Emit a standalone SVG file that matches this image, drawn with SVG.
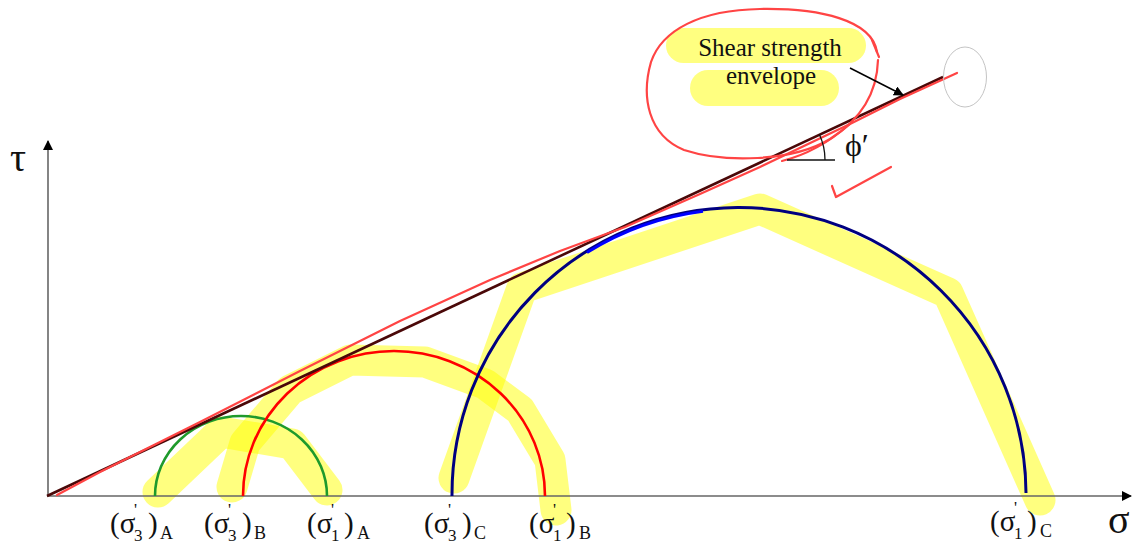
<svg xmlns="http://www.w3.org/2000/svg" width="1132" height="546" viewBox="0 0 1132 546">
<style>
.hl{fill:none;stroke:#ffff00;stroke-opacity:0.5;stroke-width:31;stroke-linecap:round;stroke-linejoin:round}
.pen{fill:none;stroke:#ff4444;stroke-width:2.2;stroke-linecap:round;stroke-linejoin:round}
.t{font-family:"Liberation Serif","Times New Roman",serif;fill:#111}
.lb{font-family:"Liberation Serif","Times New Roman",serif;font-size:29px;fill:#111}
.sb{font-size:17px}
.sl{font-size:18px}
.pr{font-size:17px}
.ax{stroke:#666;stroke-width:1.6;fill:none}
</style>
<defs>
<marker id="ah" viewBox="0 0 10 10" refX="9" refY="5" markerWidth="10" markerHeight="10" markerUnits="userSpaceOnUse" orient="auto"><path d="M0,0 L10,5 L0,10 z" fill="#000"/></marker>
<marker id="axh" viewBox="0 0 10 10" refX="9" refY="5" markerWidth="10" markerHeight="10" markerUnits="userSpaceOnUse" orient="auto"><path d="M0,0 L10,5 L0,10 z" fill="#000"/></marker>
</defs>
<rect width="1132" height="546" fill="#fff"/>
<g id="highlights">
<polyline class="hl" points="158,492 221,432 292,444 327,490"/>
<polyline class="hl" points="232,487 245,443 290,390 350,360 425,362 485,384 520,410 550,460 556,510"/>
<polyline class="hl" points="454,478 522,288 760,209 948,293 1040,500"/>
<rect x="666" y="28" width="200" height="35" rx="17.5" fill="#ffff80"/>
<rect x="690" y="70" width="149" height="36" rx="18" fill="#ffff80"/>
</g>
<g id="axes">
<line class="ax" x1="48" y1="496" x2="48" y2="141" marker-end="url(#axh)"/>
<line class="ax" x1="47" y1="496" x2="1131" y2="496" marker-end="url(#axh)"/>
<text class="t" x="10" y="171" font-size="40">τ</text>
<text class="t" x="1108" y="533" font-size="40">σ</text>
</g>
<g id="circle-A"><path d="M155,496 A86,80 0 0 1 327,496" fill="none" stroke="#1e9a2c" stroke-width="2.6"/></g>
<g id="circle-B"><path d="M243,496 A151,145 0 0 1 545,496" fill="none" stroke="#ff0000" stroke-width="2.6"/></g>
<g id="circle-C">
<path d="M452,496 A287,287 0 0 1 1026,493" fill="none" stroke="#000080" stroke-width="3"/>
<path d="M587,252.6 A287,287 0 0 1 703,211.3" fill="none" stroke="#0000ff" stroke-width="3"/>
</g>
<g id="envelope">
<line x1="47" y1="496" x2="943" y2="77" stroke="#4a0808" stroke-width="2.6"/>
<polyline class="pen" points="57,495 100,472 200,422 300,371 400,321 490,280 560,251 625,227 700,194 760,167 850,124 900,99 957,73"/>
<ellipse cx="965" cy="77" rx="21.5" ry="30" fill="none" stroke="#c4c4c4" stroke-width="1"/>
</g>
<g id="annotation">
<path class="pen" d="M877,52 C872,20 820,8 760,9 C700,10 662,30 651,62 C641,97 648,135 684,150 C724,163 792,162 830,139 C860,120 877,95 878,60"/>
<path class="pen" d="M872,40 L879,57"/>
<path class="pen" d="M782,161 Q818,152 850,124"/>
<path class="pen" d="M832,186 L836,197 L891,167"/>
</g>
<g id="label-envelope">
<text class="t" x="770" y="56" font-size="25" text-anchor="middle">Shear strength</text>
<text class="t" x="771" y="84" font-size="25" text-anchor="middle">envelope</text>
</g>
<g id="connectors">
<line x1="850" y1="68" x2="903" y2="95" stroke="#000" stroke-width="1.5" marker-end="url(#ah)"/>
</g>
<g id="angle-phi">
<line x1="787" y1="160" x2="835" y2="160" stroke="#111" stroke-width="1.3"/>
<path d="M819.4,134.6 A60,60 0 0 1 825,160" fill="none" stroke="#111" stroke-width="1.3"/>
<text class="t" x="845" y="156" font-size="32">ϕ′</text>
</g>
<g id="label-s3A" class="lb"><text x="110" y="533">(σ<tspan class="sb" x="134" y="541">3</tspan><tspan x="148" y="533">)</tspan><tspan class="sl" x="160" y="539">A</tspan></text><text class="pr" x="134" y="515">'</text></g>
<g id="label-s3B" class="lb"><text x="204" y="533">(σ<tspan class="sb" x="228" y="541">3</tspan><tspan x="242" y="533">)</tspan><tspan class="sl" x="254" y="539">B</tspan></text><text class="pr" x="228" y="515">'</text></g>
<g id="label-s1A" class="lb"><text x="307" y="533">(σ<tspan class="sb" x="331" y="541">1</tspan><tspan x="344" y="533">)</tspan><tspan class="sl" x="357" y="539">A</tspan></text><text class="pr" x="331" y="515">'</text></g>
<g id="label-s3C" class="lb"><text x="424" y="533">(σ<tspan class="sb" x="448" y="541">3</tspan><tspan x="462" y="533">)</tspan><tspan class="sl" x="474" y="539">C</tspan></text><text class="pr" x="448" y="515">'</text></g>
<g id="label-s1B" class="lb"><text x="529" y="533">(σ<tspan class="sb" x="553" y="541">1</tspan><tspan x="566" y="533">)</tspan><tspan class="sl" x="579" y="539">B</tspan></text><text class="pr" x="553" y="515">'</text></g>
<g id="label-s1C" class="lb"><text x="990" y="531">(σ<tspan class="sb" x="1014" y="539">1</tspan><tspan x="1027" y="531">)</tspan><tspan class="sl" x="1040" y="537">C</tspan></text><text class="pr" x="1014" y="513">'</text></g>
</svg>
